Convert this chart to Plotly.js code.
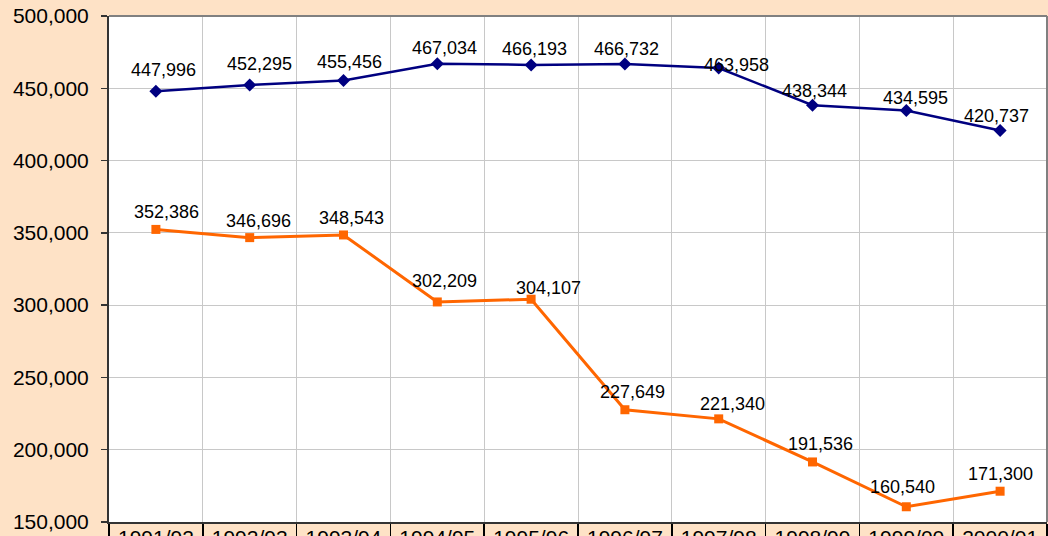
<!DOCTYPE html>
<html>
<head>
<meta charset="utf-8">
<script src="https://cdn.plot.ly/plotly-3.0.1.min.js"></script>
<style>html,body{margin:0;padding:0;background:#FEE2C6;}#chart{width:1048px;height:536px;}</style>
</head>
<body>
<div id="chart"></div>
<script>
// ---- data ----
const years = ["1991/92","1992/93","1993/94","1994/95","1995/96","1996/97","1997/98","1998/99","1999/00","2000/01"];
const seriesA = [447996, 452295, 455456, 467034, 466193, 466732, 463958, 438344, 434595, 420737];
const seriesB = [352386, 346696, 348543, 302209, 304107, 227649, 221340, 191536, 160540, 171300];
const yTicks = [150000, 200000, 250000, 300000, 350000, 400000, 450000, 500000];

// ---- label nudges (pixels, styling only) ----
const nudgeA = [[7.5,21],[10,21],[5.5,18],[7,16],[3,15.5],[2,15],[18,3],[1.5,14.5],[9,13],[-3.5,15]];
const nudgeB = [[11,17],[9,17],[8,17],[7.5,21],[17,11],[8,18],[14,14.5],[8,18],[-4,20],[0,17]];

const fmt = v => v.toLocaleString('en-US');
const FONT = 'Liberation Sans, Arial, sans-serif';

const traces = [
  {x: years, y: seriesA, type: 'scatter', mode: 'lines+markers', cliponaxis: false,
   line: {color: '#000080', width: 2.5}, marker: {symbol: 'diamond', size: 10, color: '#000080'}},
  {x: years, y: seriesB, type: 'scatter', mode: 'lines+markers', cliponaxis: false,
   line: {color: '#FF6600', width: 3}, marker: {symbol: 'square', size: 9, color: '#FF6600'}}
];

const annotations = [];
seriesA.forEach((v, i) => annotations.push({x: years[i], y: v, text: fmt(v), showarrow: false,
  xshift: nudgeA[i][0], yshift: nudgeA[i][1], font: {family: FONT, size: 18, color: '#000'}}));
seriesB.forEach((v, i) => annotations.push({x: years[i], y: v, text: fmt(v), showarrow: false,
  xshift: nudgeB[i][0], yshift: nudgeB[i][1], font: {family: FONT, size: 18, color: '#000'}}));

const layout = {
  width: 1048, height: 536,
  margin: {l: 109, r: 1, t: 16, b: 14, pad: 0},
  paper_bgcolor: '#FEE2C6', plot_bgcolor: '#FFFFFF',
  showlegend: false,
  font: {family: FONT, size: 18, color: '#000'},
  xaxis: {type: 'category', range: [-0.5, 9.5], tickson: 'boundaries',
    showgrid: true, gridcolor: '#C8C8C8', gridwidth: 1,
    ticks: 'outside', ticklen: 16, tickcolor: '#000', tickwidth: 1.5,
    showline: true, linecolor: '#333', linewidth: 2, mirror: false,
    tickfont: {family: FONT, size: 21, color: '#000'}, ticklabelstandoff: -4,
    zeroline: false, fixedrange: true},
  yaxis: {range: [150000, 500000], tickvals: yTicks, ticktext: yTicks.map(fmt),
    showgrid: true, gridcolor: '#C8C8C8', gridwidth: 1,
    ticks: 'outside', ticklen: 6, tickcolor: '#333', tickwidth: 1.5,
    showline: true, linecolor: '#333', linewidth: 2,
    tickfont: {family: FONT, size: 21, color: '#000'}, ticklabelstandoff: 8,
    zeroline: false, fixedrange: true},
  shapes: [
    {type: 'line', xref: 'paper', yref: 'paper', x0: 0, x1: 1, y0: 1, y1: 1, line: {color: '#808080', width: 2}},
    {type: 'line', xref: 'paper', yref: 'paper', x0: 1, x1: 1, y0: 0, y1: 1, line: {color: '#808080', width: 2}}
  ],
  annotations: annotations
};

Plotly.newPlot('chart', traces, layout, {displayModeBar: false, staticPlot: true});
</script>
</body>
</html>
